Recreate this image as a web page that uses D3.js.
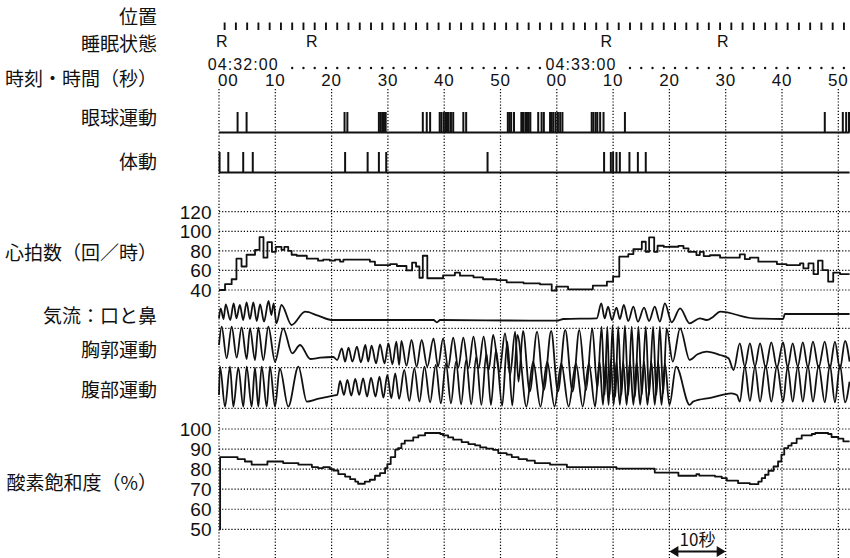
<!DOCTYPE html>
<html>
<head>
<meta charset="utf-8">
<script src="https://cdn.jsdelivr.net/npm/d3@7"></script>
<style>
  html, body { margin: 0; padding: 0; background: #fff; }
  svg { display: block; }
</style>
</head>
<body>
<div id="root"></div>
<script>
// row labels on the left
const rowLabels = [
  { text: "位置", y: 16.5 },
  { text: "睡眠状態", y: 44 },
  { text: "時刻・時間（秒）", y: 79 },
  { text: "眼球運動", y: 118 },
  { text: "体動", y: 161.5 },
  { text: "心拍数（回／時）", y: 253 },
  { text: "気流：口と鼻", y: 316 },
  { text: "胸郭運動", y: 350 },
  { text: "腹部運動", y: 390 },
  { text: "酸素飽和度（%）", y: 483 },
];

// time axis (seconds from 04:32:00)
const secondTicks = [0, 10, 20, 30, 40, 50, 60, 70, 80, 90, 100, 110];
const secondLabels = ["00", "10", "20", "30", "40", "50", "00", "10", "20", "30", "40", "50"];
const minuteLabels = [{ t: -2, text: "04:32:00" }, { t: 58, text: "04:33:00" }];
const positionTicks = d3.range(1, 112, 2);
const timeDots = d3.range(13, 58, 2).concat(d3.range(73, 112, 2));
const sleepStages = [{ t: 0.5, s: "R" }, { t: 16.5, s: "R" }, { t: 68.8, s: "R" }, { t: 89.5, s: "R" }];

// event marks (seconds)
const eyeMovements = [3.3, 4.9, 22.3, 22.8, 28.4, 28.7, 29.0, 29.3, 29.6, 36.2, 36.9, 37.5,
  39.2, 39.5, 39.9, 40.2, 40.5, 40.8, 41.2, 41.6, 43.4, 43.9, 51.3, 51.6, 51.9, 52.4,
  53.7, 54.0, 54.4, 54.7, 55.0, 55.3, 56.7, 57.3, 57.7, 58.8, 59.1, 59.4, 59.8, 60.2,
  60.6, 61.0, 66.2, 66.5, 66.9, 67.2, 67.7, 68.3, 72.1, 107.6, 110.8, 111.4, 111.9];
const bodyMovements = [0.1, 1.65, 4.3, 6.0, 22.4, 26.4, 28.4, 29.7, 47.7, 68.4, 69.6,
  70.0, 70.6, 71.2, 72.9, 74.4, 75.8];

// heart rate [t, bpm]
const hrTicks = [40, 60, 80, 100, 120];
const heartRate = [[0, 40], [1.07, 46], [2.25, 51], [3.1, 72], [4.0, 64], [4.9, 76], [6.4, 81],
  [7.2, 94], [7.9, 73], [8.6, 89], [9.4, 79], [10.1, 84], [11.1, 81], [11.6, 84], [12.3, 80],
  [12.9, 76], [13.8, 75], [15.6, 72], [17.6, 70], [18.5, 71], [19.7, 70], [20.6, 71], [21.5, 69],
  [22.1, 71], [26.8, 69], [27.7, 65.5], [30.4, 66.5], [31.6, 64.5], [33.3, 60], [34.3, 68],
  [35.0, 64], [35.6, 52.5], [36.2, 75], [37.0, 52], [39.8, 55], [41.9, 57.7], [42.8, 54.6],
  [45.2, 53], [46.9, 51], [49.3, 50], [51.1, 47.8], [54.1, 46.8], [57.0, 45.8], [59.1, 39.3],
  [59.9, 43.4], [62.0, 40.7], [66.4, 44.4], [68.9, 48.5], [70.0, 53.6], [71.1, 74], [72.7, 76.7],
  [73.6, 81.8], [75.1, 89.3], [75.8, 79], [76.4, 93.8], [77.3, 79], [77.9, 85.2], [79.0, 84],
  [80.1, 84.2], [81.6, 85], [82.5, 82.6], [83.4, 79], [84.8, 75.7], [85.4, 79], [86.1, 74.7],
  [87.2, 75.5], [89.0, 73], [92.5, 76.4], [93.4, 71.6], [94.3, 73], [95.8, 68.9], [99.1, 66.5],
  [100.8, 65.5], [103.2, 67.2], [103.8, 62.1], [104.7, 67.2], [105.6, 56.3], [106.4, 70],
  [107.2, 60.4], [108.2, 48.5], [109.1, 57.7], [110.3, 56.3], [112, 56.3]];

// respiration signals, arbitrary units (0 = bottom of abdomen band, 340 = top of airflow band)
const respGrid = [0, 122, 240];
const airflow = [[0, 270], [0.3, 300], [0.8, 268], [1.2, 312], [2.0, 265], [2.6, 315], [3.1, 270],
  [3.7, 310], [4.3, 265], [4.9, 318], [5.5, 268], [6.1, 318], [6.7, 262], [7.3, 312], [8.0, 260],
  [8.8, 322], [9.3, 280], [9.7, 315], [10.2, 255], [11.1, 310], [12.9, 250], [15.3, 290],
  [17.6, 278], [20.0, 265], [38.1, 265], [38.7, 258], [39.3, 265], [55.2, 263], [60.0, 263],
  [61.2, 268], [67.1, 270], [67.9, 315], [68.5, 270], [69.1, 305], [69.8, 265], [70.6, 302],
  [71.2, 268], [71.9, 310], [72.7, 262], [73.6, 305], [74.4, 260], [75.5, 302], [76.4, 262],
  [77.4, 305], [78.3, 260], [79.2, 315], [80.4, 258], [81.9, 300], [83.6, 255], [85.4, 270],
  [86.6, 265], [87.8, 275], [89.0, 290], [94.9, 270], [100.2, 268], [100.5, 283], [112, 283]];
const chest = [[0, 190], [0.47, 245], [1.36, 150], [2.25, 245], [3.14, 152], [4.02, 243], [4.91, 148],
  [5.5, 240], [6.39, 145], [6.98, 242], [7.87, 145], [8.76, 245], [9.95, 140], [11.4, 240],
  [13.0, 165], [14.4, 190], [16.2, 148], [18.0, 152], [20.3, 154], [21.0, 145], [21.8, 180],
  [22.4, 140], [23.0, 182], [23.7, 140], [24.5, 185], [25.2, 138], [26.0, 190], [26.5, 140],
  [27.1, 188], [27.9, 135], [28.6, 192], [29.4, 135], [30.1, 195], [30.8, 132], [31.5, 200],
  [32.0, 130], [32.4, 202], [33.3, 128], [34.2, 205], [35.1, 125], [36.0, 205], [37.0, 125],
  [38.1, 210], [38.9, 125], [39.8, 210], [40.7, 122], [41.6, 212], [42.5, 122], [43.4, 212],
  [44.3, 120], [45.2, 215], [46.1, 120], [47.0, 215], [47.9, 115], [48.7, 220], [49.8, 110],
  [50.8, 225], [51.7, 100], [52.6, 230], [53.2, 80], [54.0, 232], [55.2, 50], [56.5, 230],
  [57.7, 55], [59.0, 232], [60.2, 50], [61.5, 235], [62.8, 50], [64.0, 235], [65.2, 55],
  [66.3, 240], [67.2, 60], [67.96, 245], [68.5, 40], [68.97, 245], [69.4, 40], [69.9, 248],
  [70.4, 35], [70.9, 245], [71.5, 40], [72.1, 248], [72.7, 40], [73.3, 245], [73.9, 35],
  [74.5, 245], [75.1, 40], [75.8, 245], [76.4, 40], [77.1, 245], [77.7, 40], [78.3, 245],
  [78.9, 45], [79.5, 240], [80.6, 140], [81.9, 240], [83.6, 145], [85.0, 162], [86.6, 170],
  [89.0, 160], [90.5, 150], [91.4, 115], [92.5, 195], [93.4, 125], [94.3, 195], [95.2, 125],
  [96.1, 195], [97.1, 122], [98.1, 198], [99.1, 122], [100.2, 198], [101.0, 122], [101.9, 195],
  [102.8, 125], [103.7, 198], [104.6, 122], [105.5, 200], [106.5, 122], [107.6, 200],
  [108.5, 120], [109.4, 200], [110.3, 118], [111.2, 202], [112, 140]];
const abdomen = [[0, 40], [0.18, 125], [1.07, 5], [1.95, 125], [2.55, 5], [3.43, 122], [4.32, 5],
  [4.91, 125], [5.8, 5], [6.39, 122], [6.98, 5], [7.58, 125], [8.47, 5], [9.06, 125], [9.95, 5],
  [10.8, 120], [12.3, 5], [14.1, 125], [15.6, 20], [17.5, 28], [20.3, 38], [21.0, 40], [21.5, 82],
  [22.2, 40], [22.8, 85], [23.5, 38], [24.2, 88], [24.9, 40], [25.6, 90], [26.3, 35], [27.0, 92],
  [27.8, 35], [28.5, 95], [29.2, 32], [29.9, 100], [30.6, 30], [31.3, 105], [32.0, 28],
  [32.9, 115], [33.8, 22], [34.7, 120], [35.6, 20], [36.5, 125], [37.5, 18], [38.5, 130],
  [39.4, 15], [40.3, 135], [41.2, 15], [42.1, 140], [43.0, 12], [43.9, 145], [44.8, 12],
  [45.7, 155], [46.6, 10], [47.5, 165], [48.3, 10], [49.2, 175], [50.3, 8], [51.2, 200],
  [52.1, 8], [53.0, 220], [54.6, 5], [55.8, 140], [57.1, 5], [58.3, 140], [59.6, 5], [60.8, 135],
  [62.1, 5], [63.4, 135], [64.6, 5], [65.7, 135], [66.8, 5], [67.6, 140], [68.2, 10], [68.7, 140],
  [69.2, 10], [69.6, 145], [70.1, 10], [70.6, 140], [71.2, 10], [71.8, 140], [72.4, 10],
  [73.0, 140], [73.6, 10], [74.2, 140], [74.8, 10], [75.5, 140], [76.1, 10], [76.8, 140],
  [77.4, 10], [78.0, 140], [78.6, 10], [79.2, 135], [80.0, 10], [81.2, 125], [83.6, 10],
  [84.2, 20], [87.5, 32], [91.0, 45], [92.0, 40], [92.5, 20], [93.4, 125], [94.3, 22],
  [95.2, 125], [96.1, 20], [97.1, 127], [98.1, 20], [99.1, 127], [100.2, 20], [101.0, 125],
  [101.9, 20], [102.8, 125], [103.7, 20], [104.6, 128], [105.5, 20], [106.5, 128], [107.6, 18],
  [108.5, 130], [109.4, 18], [110.3, 130], [111.2, 18], [112, 80]];

// oxygen saturation [t, %]
const spo2Ticks = [50, 60, 70, 80, 90, 100];
const spo2 = [[0, 50], [0.2, 86], [3.3, 85], [4.6, 83.8], [5.8, 82.2], [8.6, 83.8], [11.4, 83],
  [14.1, 82.2], [16.5, 81], [17.6, 80.5], [18.5, 81], [19.7, 80], [20.3, 79.3], [21.2, 77.5],
  [22.4, 76.3], [23.3, 75], [24.2, 73.8], [24.7, 72.7], [25.9, 73.8], [26.8, 74.7], [27.7, 76.7],
  [28.6, 78], [29.5, 80.5], [29.9, 82.5], [30.5, 86], [31.3, 89.7], [31.8, 90.5], [32.4, 92.7],
  [33.0, 94.2], [34.5, 95.8], [35.4, 96.8], [36.6, 98], [39.3, 97.5], [39.8, 96.8], [40.7, 95.8],
  [41.6, 94.7], [43.1, 93.5], [44.3, 92.5], [45.5, 91.8], [46.4, 90.8], [47.5, 90.2], [48.7, 89.6],
  [49.6, 88], [51.1, 87.2], [52.0, 86], [53.2, 85], [54.7, 84.2], [56.1, 83], [58.8, 82.2],
  [61.8, 81], [70.6, 80.2], [77.4, 78.3], [81.6, 76.7], [84.8, 77.5], [85.3, 76.8], [88.1, 76.3],
  [89.3, 75.5], [90.2, 74.3], [92.2, 73], [94.3, 72.5], [95.8, 73.8], [96.4, 75.5], [97.0, 77.2],
  [97.6, 79.2], [98.5, 81.3], [99.3, 83.8], [99.9, 87.2], [100.4, 90.5], [101.1, 91.7],
  [101.7, 93], [102.6, 95.2], [103.5, 96.8], [105.3, 97.5], [105.9, 98], [108.2, 97.5],
  [108.8, 96], [110.0, 95.2], [110.9, 93.8], [112, 93.8]];

const scaleMarker = { from: 80, to: 90, text: "10秒" };

const width = 850;
const height = 558;
const tMax = 112;
const jpFont = "'Noto Sans CJK JP', 'Noto Sans', sans-serif";
const numFont = "'Liberation Sans', Arial, Helvetica, sans-serif";

const svg = d3.select("#root")
  .append("svg")
  .attr("width", width)
  .attr("height", height)
  .attr("viewBox", `0 0 ${width} ${height}`);

// scales
const x = d3.scaleLinear().domain([0, 110]).range([219, 838.3]);
const yHR = d3.scaleLinear().domain([40, 120]).range([290, 211.7]);
const yResp = d3.scaleLinear().domain([0, 340]).range([408.3, 295]);
const ySpo2 = d3.scaleLinear().domain([50, 100]).range([529.3, 429]);
const xEnd = x(tMax);

const dotted = (sel) => sel
  .attr("stroke", "#000")
  .attr("stroke-width", 1.2)
  .attr("stroke-dasharray", "1.2 1.9")
  .attr("fill", "none");

// left labels
svg.append("g")
  .selectAll("text")
  .data(rowLabels)
  .join("text")
  .text((d) => d.text)
  .attr("x", 157)
  .attr("y", (d) => d.y)
  .attr("dy", "0.38em")
  .attr("text-anchor", "end")
  .attr("font-family", jpFont)
  .attr("font-size", 19)
  .attr("fill", "#111");

// vertical grid
svg.append("g")
  .selectAll("line")
  .data(secondTicks)
  .join("line")
  .attr("x1", (d) => x(d))
  .attr("x2", (d) => x(d))
  .attr("y1", 89)
  .attr("y2", height)
  .call(dotted);

// horizontal grids
const hGrid = svg.append("g");
hGrid.selectAll("line.hr")
  .data(hrTicks)
  .join("line")
  .attr("class", "hr")
  .attr("x1", x(0)).attr("x2", xEnd)
  .attr("y1", (d) => yHR(d)).attr("y2", (d) => yHR(d))
  .call(dotted);
hGrid.selectAll("line.resp")
  .data(respGrid)
  .join("line")
  .attr("class", "resp")
  .attr("x1", x(0)).attr("x2", xEnd)
  .attr("y1", (d) => yResp(d)).attr("y2", (d) => yResp(d))
  .call(dotted);
hGrid.selectAll("line.spo2")
  .data(spo2Ticks)
  .join("line")
  .attr("class", "spo2")
  .attr("x1", x(0)).attr("x2", xEnd)
  .attr("y1", (d) => ySpo2(d)).attr("y2", (d) => ySpo2(d))
  .call(dotted);

// y tick labels
const tickLabels = (data, scale) => svg.append("g")
  .selectAll("text")
  .data(data)
  .join("text")
  .text((d) => d)
  .attr("x", 211.5)
  .attr("y", (d) => scale(d))
  .attr("dy", "0.36em")
  .attr("text-anchor", "end")
  .attr("font-family", numFont)
  .attr("font-size", 19)
  .attr("fill", "#111");
tickLabels(hrTicks, yHR);
tickLabels(spo2Ticks, ySpo2);

// position ticks
svg.append("g")
  .selectAll("line")
  .data(positionTicks)
  .join("line")
  .attr("x1", (d) => x(d)).attr("x2", (d) => x(d))
  .attr("y1", 22.5).attr("y2", 30)
  .attr("stroke", "#111")
  .attr("stroke-width", 1.9);

// sleep stage
svg.append("g")
  .selectAll("text")
  .data(sleepStages)
  .join("text")
  .text((d) => d.s)
  .attr("x", (d) => x(d.t))
  .attr("y", 47)
  .attr("text-anchor", "middle")
  .attr("font-family", numFont)
  .attr("font-size", 16)
  .attr("fill", "#111");

// clock labels and dots
svg.append("g")
  .selectAll("text")
  .data(minuteLabels)
  .join("text")
  .text((d) => d.text)
  .attr("x", (d) => x(d.t))
  .attr("y", 69.5)
  .attr("letter-spacing", 1.1)
  .attr("font-family", numFont)
  .attr("font-size", 16)
  .attr("fill", "#111");
svg.append("g")
  .selectAll("circle")
  .data(timeDots)
  .join("circle")
  .attr("cx", (d) => x(d))
  .attr("cy", 68)
  .attr("r", 1.2)
  .attr("fill", "#111");
svg.append("g")
  .selectAll("text")
  .data(secondTicks)
  .join("text")
  .text((d, i) => secondLabels[i])
  .attr("x", (d, i) => (i === 0 ? x(d) - 1 : x(d)))
  .attr("y", 86)
  .attr("text-anchor", (d, i) => (i === 0 ? "start" : "middle"))
  .attr("letter-spacing", 0.8)
  .attr("font-family", numFont)
  .attr("font-size", 17)
  .attr("fill", "#111");

// event rows
const eventRow = (events, base, top) => {
  const g = svg.append("g");
  g.append("line")
    .attr("x1", x(0)).attr("x2", xEnd)
    .attr("y1", base).attr("y2", base)
    .attr("stroke", "#111")
    .attr("stroke-width", 2);
  g.selectAll("line.ev")
    .data(events)
    .join("line")
    .attr("class", "ev")
    .attr("x1", (d) => x(d)).attr("x2", (d) => x(d))
    .attr("y1", base).attr("y2", top)
    .attr("stroke", "#111")
    .attr("stroke-width", 2);
};
eventRow(eyeMovements, 132.5, 112);
eventRow(bodyMovements, 172.5, 152);

// traces
const stepLine = (scale) => d3.line()
  .x((d) => x(d[0]))
  .y((d) => scale(d[1]))
  .curve(d3.curveStepAfter);
const waveLine = d3.line()
  .x((d) => x(d[0]))
  .y((d) => yResp(d[1]))
  .curve(d3.curveMonotoneX);

const drawPath = (data, gen) => svg.append("path")
  .datum(data)
  .attr("d", gen)
  .attr("fill", "none")
  .attr("stroke", "#111")
  .attr("stroke-width", 1.8)
  .attr("stroke-linejoin", "round");

drawPath(heartRate, stepLine(yHR));
drawPath(airflow, waveLine);
drawPath(chest, waveLine);
drawPath(abdomen, waveLine);
drawPath(spo2, stepLine(ySpo2));

// 10 second marker
const mk = svg.append("g");
const mx1 = x(scaleMarker.from);
const mx2 = x(scaleMarker.to);
const my = 551.5;
mk.append("line")
  .attr("x1", mx1 + 6).attr("x2", mx2 - 6)
  .attr("y1", my).attr("y2", my)
  .attr("stroke", "#111")
  .attr("stroke-width", 2);
mk.append("path")
  .attr("d", `M${mx1},${my} l9,-5.5 v11 Z M${mx2},${my} l-9,-5.5 v11 Z`)
  .attr("fill", "#111");
mk.append("text")
  .text(scaleMarker.text)
  .attr("x", (mx1 + mx2) / 2)
  .attr("y", 546)
  .attr("text-anchor", "middle")
  .attr("font-family", jpFont)
  .attr("font-size", 17)
  .attr("fill", "#111");
</script>
</body>
</html>
